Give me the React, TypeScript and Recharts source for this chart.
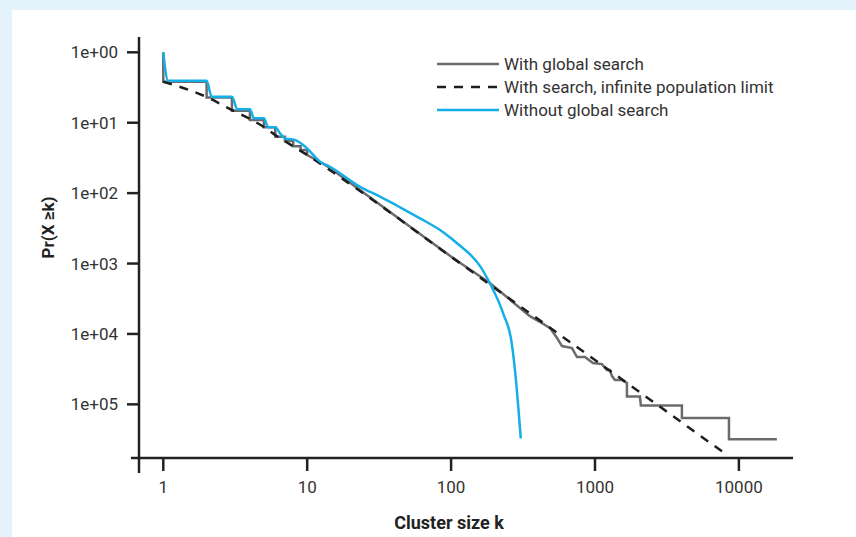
import { LineChart, Line, XAxis, YAxis, ReferenceLine, Legend, Label } from 'recharts'

// cluster size k and Pr(X >= k)
const globalK = [1, 1, 2, 2, 3, 3, 4, 4, 5, 5, 6, 6, 7, 7, 8, 8, 9, 9, 10, 10, 12.3, 14.4, 37.6, 103, 186, 353, 450, 487, 545, 590, 692, 750, 852, 968, 1117, 1210, 1270, 1312, 1376, 1540, 1667, 1667, 2053, 2084, 4018, 4018, 8530, 8530, 18370]
const globalPr = [1, 0.382, 0.382, 0.229, 0.229, 0.148, 0.148, 0.109, 0.109, 0.086, 0.086, 0.063, 0.063, 0.055, 0.055, 0.0465, 0.0465, 0.041, 0.041, 0.0348, 0.0277, 0.0227, 0.0054, 0.0012, 0.000528, 0.000179, 0.000134, 0.000121, 0.0000875, 0.0000673, 0.000063, 0.000047, 0.000047, 0.0000386, 0.0000373, 0.0000307, 0.0000307, 0.0000252, 0.0000221, 0.0000221, 0.0000201, 0.0000129, 0.0000129, 0.0000096, 0.0000096, 0.0000064, 0.0000064, 0.0000032, 0.0000032]

const limitK = [1, 2, 3, 4, 5, 6, 10, 23.3, 100, 1000, 7750]
const limitPr = [0.382, 0.232, 0.1515, 0.113, 0.0869, 0.0669, 0.0348, 0.0107, 0.00125, 0.0000426, 0.0000021]

const noSearchK = [1, 1.08, 2, 2.17, 3, 3.27, 4, 4.27, 5, 5.37, 6, 6.47, 7.0, 8.2, 9.7, 12.3, 14.4, 23.3, 32.1, 44.2, 60.8, 83.8, 98.4, 115, 135, 159, 186, 230, 264, 278, 293, 305]
const noSearchPr = [1, 0.395, 0.395, 0.234, 0.234, 0.155, 0.155, 0.1155, 0.1155, 0.086, 0.086, 0.0707, 0.06, 0.057, 0.0456, 0.0279, 0.0237, 0.0123, 0.0089, 0.00628, 0.00438, 0.00299, 0.00234, 0.0018, 0.00136, 0.00092, 0.000524, 0.000196, 0.0000735, 0.0000307, 0.00000925, 0.00000329]

const xTicks = [1, 10, 100, 1000, 10000]
const yTicks = [1, 0.1, 0.01, 0.001, 0.0001, 0.00001]
const yTickLabels = ['1e+00', '1e+01', '1e+02', '1e+03', '1e+04', '1e+05']

const toRows = (ks: number[], prs: number[]) => ks.map((k, i) => ({ k, pr: prs[i] }))

const X_MIN = 0.678
const X_MAX = 23770
const Y_MIN = 1.73e-6
const Y_MAX = 1.65

const axisColor = '#222'
const textColor = '#333'
const font = 'Roboto, "Noto Sans", sans-serif'

const renderLegend = (props: any) => {
  const { payload } = props
  return (
    <div style={{ fontFamily: font, fontSize: 17, color: textColor }}>
      {payload.map((entry: any) => (
        <div key={entry.value} style={{ display: 'flex', alignItems: 'center', height: 23 }}>
          <svg width={62} height={6} style={{ marginRight: 5 }}>
            <line
              x1={0}
              y1={3}
              x2={62}
              y2={3}
              stroke={entry.color}
              strokeWidth={2.5}
              strokeDasharray={entry.payload?.strokeDasharray}
            />
          </svg>
          <span>{entry.value}</span>
        </div>
      ))}
    </div>
  )
}

export default function App() {
  return (
    <div style={{ position: 'absolute', left: 0, top: 0, width: 856, height: 537, background: '#e3f2fb', overflow: 'hidden' }}>
      <div style={{ position: 'absolute', left: 12, top: 10, right: 0, bottom: 0, background: '#fff' }} />
      <div style={{ position: 'absolute', left: 0, top: 0 }}>
        <LineChart width={856} height={537} margin={{ top: 37, right: 63, left: 0, bottom: 0 }}>
          <XAxis
            dataKey="k"
            type="number"
            scale="log"
            domain={[X_MIN, X_MAX]}
            allowDataOverflow
            ticks={xTicks}
            height={79}
            axisLine={false}
            tickLine={{ stroke: axisColor, strokeWidth: 2.5 }}
            tickSize={13}
            tickMargin={10}
            tick={{ fill: textColor, fontSize: 17, fontFamily: font }}
          >
            <Label
              content={({ viewBox }: any) => (
                <text
                  x={viewBox.x + viewBox.width / 2 - 17}
                  y={viewBox.y + 64}
                  textAnchor="middle"
                  dominantBaseline="central"
                  style={{ fontFamily: font, fontSize: 18, fontWeight: 700, fill: '#222' }}
                >
                  Cluster size k
                </text>
              )}
            />
          </XAxis>
          <YAxis
            type="number"
            scale="log"
            domain={[Y_MIN, Y_MAX]}
            allowDataOverflow
            ticks={yTicks}
            width={139}
            axisLine={false}
            tickLine={{ stroke: axisColor, strokeWidth: 2.5 }}
            tickSize={12}
            tickMargin={9}
            tick={{ fill: textColor, fontSize: 17, fontFamily: font }}
            tickFormatter={(v: number) => yTickLabels[Math.round(-Math.log10(v))]}
          >
            <Label
              content={({ viewBox }: any) => (
                <text
                  x={viewBox.x + 47.5}
                  y={227.5}
                  transform={`rotate(-90, ${viewBox.x + 47.5}, 227.5)`}
                  textAnchor="middle"
                  dominantBaseline="central"
                  style={{ fontFamily: font, fontSize: 17, fontWeight: 700, fill: '#222' }}
                >
                  Pr(X ≥k)
                </text>
              )}
            />
          </YAxis>
          <ReferenceLine
            segment={[{ x: X_MIN, y: Y_MAX }, { x: X_MIN, y: 1.06e-6 }]}
            stroke={axisColor}
            strokeWidth={2.5}
            ifOverflow="visible"
          />
          <ReferenceLine
            segment={[{ x: 0.596, y: Y_MIN }, { x: X_MAX, y: Y_MIN }]}
            stroke={axisColor}
            strokeWidth={2.5}
            ifOverflow="visible"
          />
          <Legend
            content={renderLegend}
            layout="horizontal"
            verticalAlign="middle"
            align="center"
            wrapperStyle={{ top: 52, left: 437, width: 'auto' }}
          />
          <Line
            data={toRows(globalK, globalPr)}
            dataKey="pr"
            name="With global search"
            type="linear"
            stroke="#6b6b6b"
            strokeWidth={2.5}
            dot={false}
            isAnimationActive={false}
          />
          <Line
            data={toRows(limitK, limitPr)}
            dataKey="pr"
            name="With search, infinite population limit"
            type="monotone"
            stroke="#1e1e1e"
            strokeWidth={2.5}
            strokeDasharray="9 8"
            dot={false}
            isAnimationActive={false}
          />
          <Line
            data={toRows(noSearchK, noSearchPr)}
            dataKey="pr"
            name="Without global search"
            type="monotone"
            stroke="#14aee8"
            strokeWidth={2.5}
            dot={false}
            isAnimationActive={false}
          />
        </LineChart>
      </div>
    </div>
  )
}
